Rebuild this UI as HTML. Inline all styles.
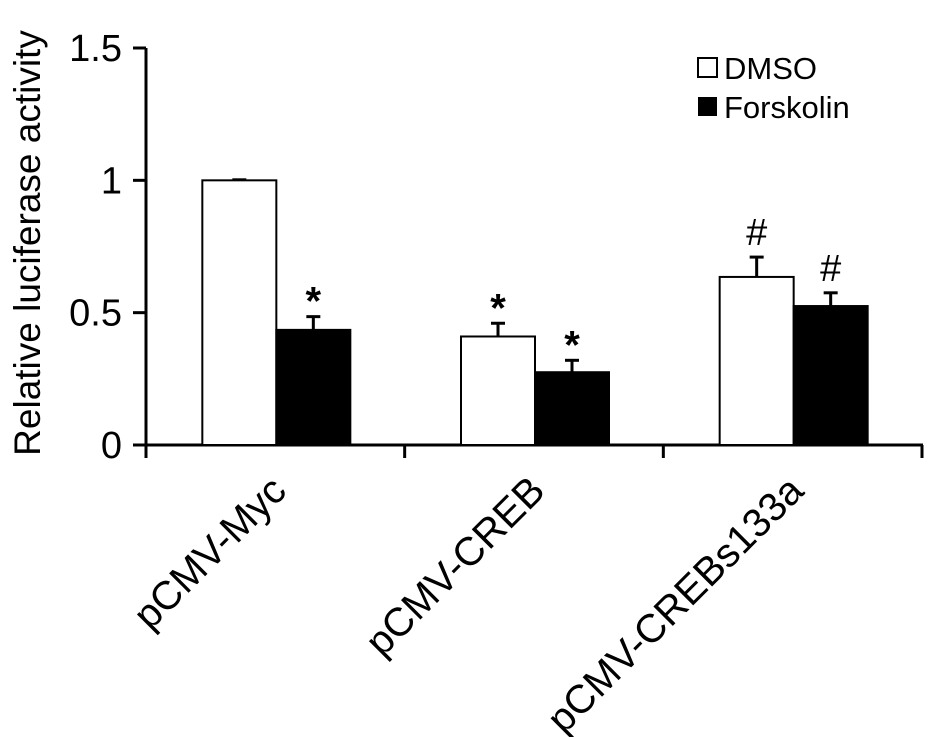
<!DOCTYPE html>
<html><head><meta charset="utf-8"><style>
html,body{margin:0;padding:0;background:#fff;}
svg{display:block;font-family:"Liberation Sans",Arial,sans-serif;}
</style></head><body>
<svg id="chart" width="945" height="737">
<g id="axes"></g>
<g id="bars"></g>
<text transform="translate(40,243) rotate(-90)" text-anchor="middle" font-size="37">Relative luciferase activity</text>
<g>
<rect x="698" y="58" width="19" height="19" fill="#fff" stroke="#000" stroke-width="2"/>
<text x="724" y="79" font-size="31">DMSO</text>
<rect x="698" y="97" width="19" height="19" fill="#000"/>
<text x="724" y="118" font-size="31">Forskolin</text>
</g>
</svg>
<script>
const categories=["pCMV-Myc","pCMV-CREB","pCMV-CREBs133a"];
const dmso=[1.0,0.41,0.635];
const dmsoErr=[0.002,0.05,0.075];
const forsk=[0.435,0.275,0.525];
const forskErr=[0.05,0.045,0.05];
const dmsoMarks=["","*","#"];
const forskMarks=["*","*","#"];
const yTicks=[0,0.5,1,1.5];
const yTickLabels=["0","0.5","1","1.5"];
const NS="http://www.w3.org/2000/svg";
const x0=146,x1=922,y0=445,yTop=48,yMax=1.5;
const y=v=>y0-(v/yMax)*(y0-yTop);
const bandW=(x1-x0)/categories.length;
const barW=74;
const cx=i=>x0+bandW*(i+0.5)+1;
function mk(tag,attrs,parent){const e=document.createElementNS(NS,tag);for(const k in attrs)e.setAttribute(k,attrs[k]);parent.appendChild(e);return e;}
const axes=document.getElementById('axes'),bars=document.getElementById('bars');
let e=mk('line',{x1:x0,y1:yTop,x2:x0,y2:y0+13,stroke:'#000','stroke-width':3},axes);


e=mk('line',{x1:x0-13,y1:y0,x2:x1+1,y2:y0,stroke:'#000','stroke-width':3},axes);


yTicks.forEach((t,i)=>{
 let l=mk('line',{x1:x0-13,y1:y(t),x2:x0,y2:y(t),stroke:'#000','stroke-width':3},axes);
 
 
 let tx=mk('text',{x:x0-24,y:y(t)+13,'text-anchor':'end','font-size':38},axes);
 tx.textContent=yTickLabels[i];
 
 
});
for(let i=0;i<=categories.length;i++){
 let xx=x0+bandW*i;
 let l=mk('line',{x1:xx,y1:y0,x2:xx,y2:y0+13,stroke:'#000','stroke-width':3},axes);
 
 
}
categories.forEach((c,i)=>{
 const c0=cx(i);
 const series=[[dmso,dmsoErr,dmsoMarks,'#fff',c0-barW,'dmso'],[forsk,forskErr,forskMarks,'#000',c0,'forskolin']];
 series.forEach(([vals,errs,marks,fill,bx,nm])=>{
  const v=vals[i],top=y(v),et=y(v+errs[i]),mx=bx+barW/2;
  let el=mk('line',{x1:mx,y1:top,x2:mx,y2:et,stroke:'#000','stroke-width':3},bars);
  
  
  el=mk('line',{x1:mx-7,y1:et,x2:mx+7,y2:et,stroke:'#000','stroke-width':3},bars);
  
  
  el=mk('rect',{x:bx,y:top,width:barW,height:y0-top,fill:fill,stroke:'#000','stroke-width':2},bars);
  
  
  if(marks[i]){
   const star=marks[i]==='*';
   el=mk('text',{x:mx,y:star?et-2:et-12,'text-anchor':'middle','font-size':star?40:38,'font-weight':star?'bold':'normal'},bars);
   el.textContent=marks[i];
   
   
  }
 });
 let t=mk('text',{transform:`translate(${c0+12},${y0+48}) rotate(-45)`,'text-anchor':'end','font-size':40},axes);
 t.textContent=c;
 
 
});
</script>
</body></html>
